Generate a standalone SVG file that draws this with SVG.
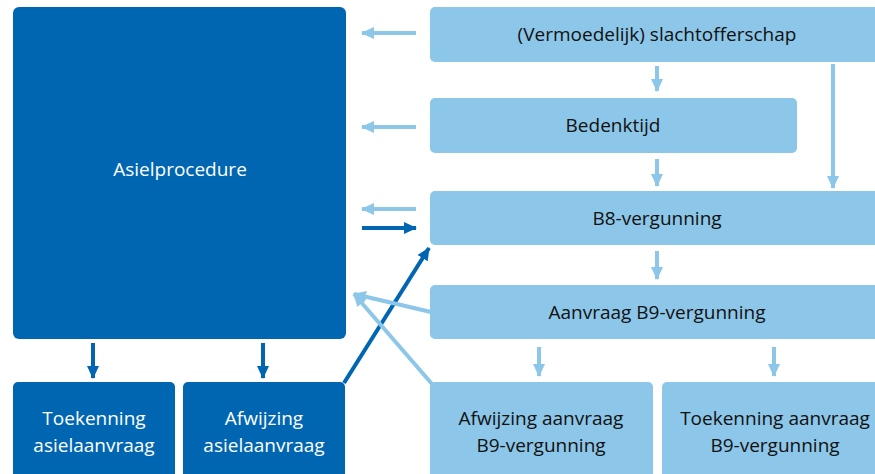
<svg xmlns="http://www.w3.org/2000/svg" width="875" height="474" viewBox="0 0 875 474">
<style>
.d{fill:#0066b2}
.l{fill:#8cc6e8}
.t{font-family:"Open Sans","Noto Sans",sans-serif;font-size:19px;text-anchor:middle}
.tw{fill:#ffffff}
.tb{fill:#111111}
.cl{stroke:#8cc6e8;stroke-width:4;fill:none}
.cd{stroke:#0066b2;stroke-width:4;fill:none}
</style>
<defs>
<marker id="al" markerUnits="userSpaceOnUse" markerWidth="14" markerHeight="14" refX="12" refY="7" orient="auto"><path d="M0,1 L13,7 L0,13 Z" fill="#8cc6e8"/></marker>
<marker id="ad" markerUnits="userSpaceOnUse" markerWidth="14" markerHeight="14" refX="12" refY="7" orient="auto"><path d="M0,1 L13,7 L0,13 Z" fill="#0066b2"/></marker>
</defs>
<g id="asielprocedure"><rect class="d" x="13" y="7" width="333" height="332" rx="6"/><text class="t tw" x="180" y="176">Asielprocedure</text></g>
<g id="toekenning-asiel"><rect class="d" x="13" y="382" width="162" height="100" rx="5"/><text class="t tw" x="94" y="425">Toekenning</text><text class="t tw" x="94" y="452">asielaanvraag</text></g>
<g id="afwijzing-asiel"><rect class="d" x="183" y="382" width="162" height="100" rx="5"/><text class="t tw" x="264" y="425">Afwijzing</text><text class="t tw" x="264" y="452">asielaanvraag</text></g>
<g id="slachtofferschap"><rect class="l" x="430" y="7" width="460" height="55" rx="5"/><text class="t tb" x="657" y="41">(Vermoedelijk) slachtofferschap</text></g>
<g id="bedenktijd"><rect class="l" x="430" y="98" width="367" height="55" rx="5"/><text class="t tb" x="613" y="132">Bedenktijd</text></g>
<g id="b8"><rect class="l" x="430" y="191" width="460" height="54" rx="5"/><text class="t tb" x="657" y="225">B8-vergunning</text></g>
<g id="aanvraag-b9"><rect class="l" x="430" y="285" width="460" height="54" rx="5"/><text class="t tb" x="657" y="319">Aanvraag B9-vergunning</text></g>
<g id="afwijzing-b9"><rect class="l" x="430" y="382" width="223" height="100" rx="5"/><text class="t tb" x="541" y="425">Afwijzing aanvraag</text><text class="t tb" x="541" y="452">B9-vergunning</text></g>
<g id="toekenning-b9"><rect class="l" x="662" y="382" width="230" height="100" rx="5"/><text class="t tb" x="775" y="425">Toekenning aanvraag</text><text class="t tb" x="775" y="452">B9-vergunning</text></g>
<g id="connectors">
<line class="cl" x1="416" y1="33" x2="362" y2="33" marker-end="url(#al)"/>
<line class="cl" x1="416" y1="127" x2="362" y2="127" marker-end="url(#al)"/>
<line class="cl" x1="416" y1="209" x2="362" y2="209" marker-end="url(#al)"/>
<line class="cd" x1="362" y1="228" x2="416" y2="228" marker-end="url(#ad)"/>
<line class="cl" x1="657" y1="66" x2="657" y2="91" marker-end="url(#al)"/>
<line class="cl" x1="657" y1="159" x2="657" y2="186" marker-end="url(#al)"/>
<line class="cl" x1="657" y1="251" x2="657" y2="279" marker-end="url(#al)"/>
<line class="cl" x1="833" y1="64" x2="833" y2="188" marker-end="url(#al)"/>
<line class="cl" x1="539" y1="347" x2="539" y2="376" marker-end="url(#al)"/>
<line class="cl" x1="774" y1="347" x2="774" y2="376" marker-end="url(#al)"/>
<line class="cd" x1="93" y1="343" x2="93" y2="378" marker-end="url(#ad)"/>
<line class="cd" x1="263" y1="343" x2="263" y2="378" marker-end="url(#ad)"/>
<line class="cd" x1="344" y1="383" x2="429" y2="248" marker-end="url(#ad)"/>
<line class="cl" x1="431" y1="312" x2="354" y2="294" marker-end="url(#al)"/>
<line class="cl" x1="432" y1="384" x2="354" y2="294" marker-end="url(#al)"/>
</g>
</svg>
